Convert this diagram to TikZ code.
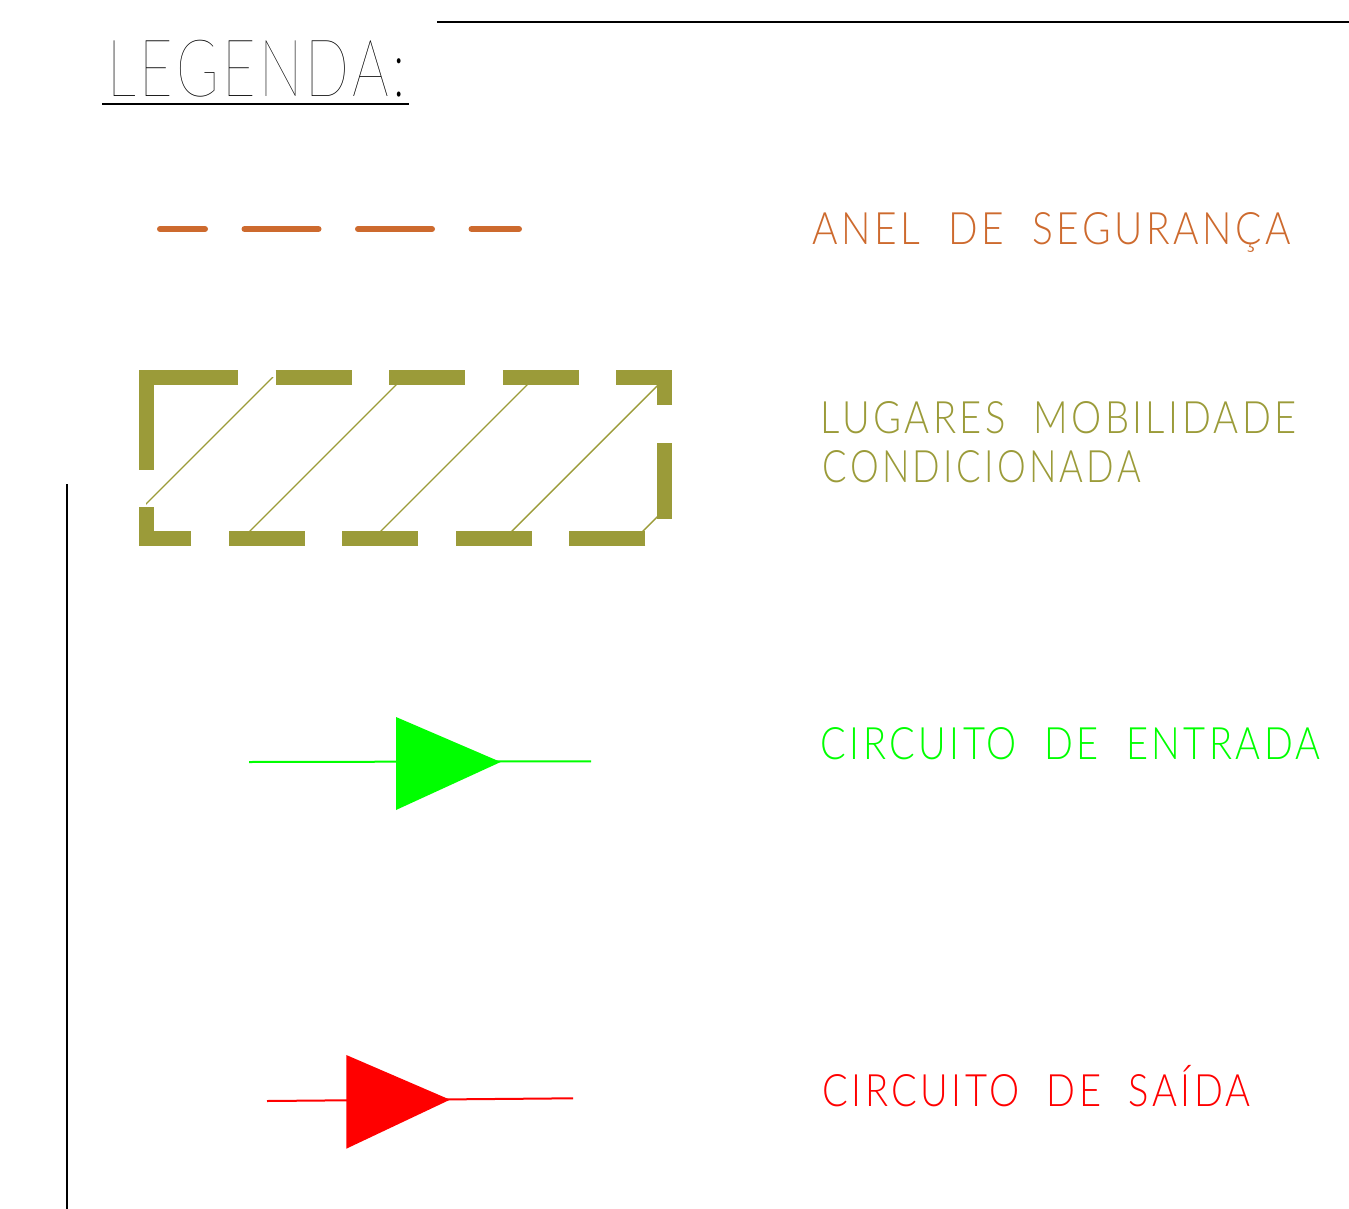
\documentclass[tikz,border=0pt]{standalone}
\usepackage{fontspec}
\usepackage{graphicx}
\newfontfamily\cadfont{Lato Light}[LetterSpace=9,WordSpace=2]
\newfontfamily\titlefont{Lato Hairline}[LetterSpace=6]
\definecolor{anelC}{RGB}{205,106,46}
\definecolor{mobC}{RGB}{155,155,57}
\definecolor{inC}{RGB}{0,255,0}
\definecolor{outC}{RGB}{255,0,0}
\newcommand\cadtxt[2]{\resizebox{#1pt}{\height}{#2}}

\begin{document}
\begin{tikzpicture}[x=1pt,y=-1pt,line width=1.5pt,
  legtxt/.style={anchor=base west,inner sep=0pt,font=\cadfont\fontsize{44.7}{50}\selectfont},
  titletxt/.style={anchor=base west,inner sep=0pt,font=\titlefont\fontsize{79.5}{90}\selectfont},
  anel/.style={anelC,line width=6pt,line cap=round,dash pattern=on 74pt off 39.5pt,dash phase=29pt},
  mobbar/.style={mobC,line width=15pt,line join=miter},
  hatch/.style={mobC,line width=1.4pt},
  circ/.style={line width=2pt}]
  \useasboundingbox (0,0) rectangle (1349,1209);

  \node[titletxt] (title) at (107,97) {\cadtxt{298}{LEGENDA:}};
  \coordinate (ulA) at (102,104);
  \coordinate (ulB) at (409,104);
  \draw (ulA) -- (ulB);
  \coordinate (topA) at (437,22);
  \coordinate (topB) at (1349,22);
  \draw (topA) -- (topB);
  \coordinate (sideA) at (67,484);
  \coordinate (sideB) at (67,1209);
  \draw (sideA) -- (sideB);

  \coordinate (anelA) at (160,229);
  \coordinate (anelB) at (519,229);
  \draw[anel] (anelA) -- (anelB);
  \node[legtxt,anelC] (anelT) at (812,244) {\cadtxt{478}{ANEL DE SEGURANÇA}};

  \begin{scope}
    \clip (146,377) rectangle (664,538);
    \foreach \c in {650,781,912,1043,1174}
      \draw[hatch] (\c-377,377) -- (\c-538,538);
  \end{scope}
  \draw[mobbar,dash pattern=on 76pt off 37.6pt,dash phase=76pt] (238,377) -- (664,377) -- (664,538) -- (146,538) -- (146,469.3);
  \draw[mobbar] (146,469.3) -- (146,377) -- (238,377);
  \node[legtxt,mobC] (mobT1) at (820,433) {\cadtxt{476}{LUGARES MOBILIDADE}};
  \node[legtxt,mobC] (mobT2) at (822,482) {\cadtxt{318}{CONDICIONADA}};

  \coordinate (inA) at (249,762);
  \coordinate (inB) at (591,761.3);
  \draw[circ,inC] (inA) -- (inB);
  \fill[inC] (396,717) -- (500.7,762) -- (396,810) -- cycle;
  \node[legtxt,inC] (inT) at (820,759) {\cadtxt{500}{CIRCUITO DE ENTRADA}};

  \coordinate (outA) at (267,1101);
  \coordinate (outB) at (573,1098.3);
  \draw[circ,outC] (outA) -- (outB);
  \fill[outC] (346.3,1055) -- (450,1099.7) -- (346.3,1148.7) -- cycle;
  \node[legtxt,outC] (outT) at (822,1106) {\cadtxt{428}{CIRCUITO DE SAÍDA}};
\end{tikzpicture}
\end{document}
